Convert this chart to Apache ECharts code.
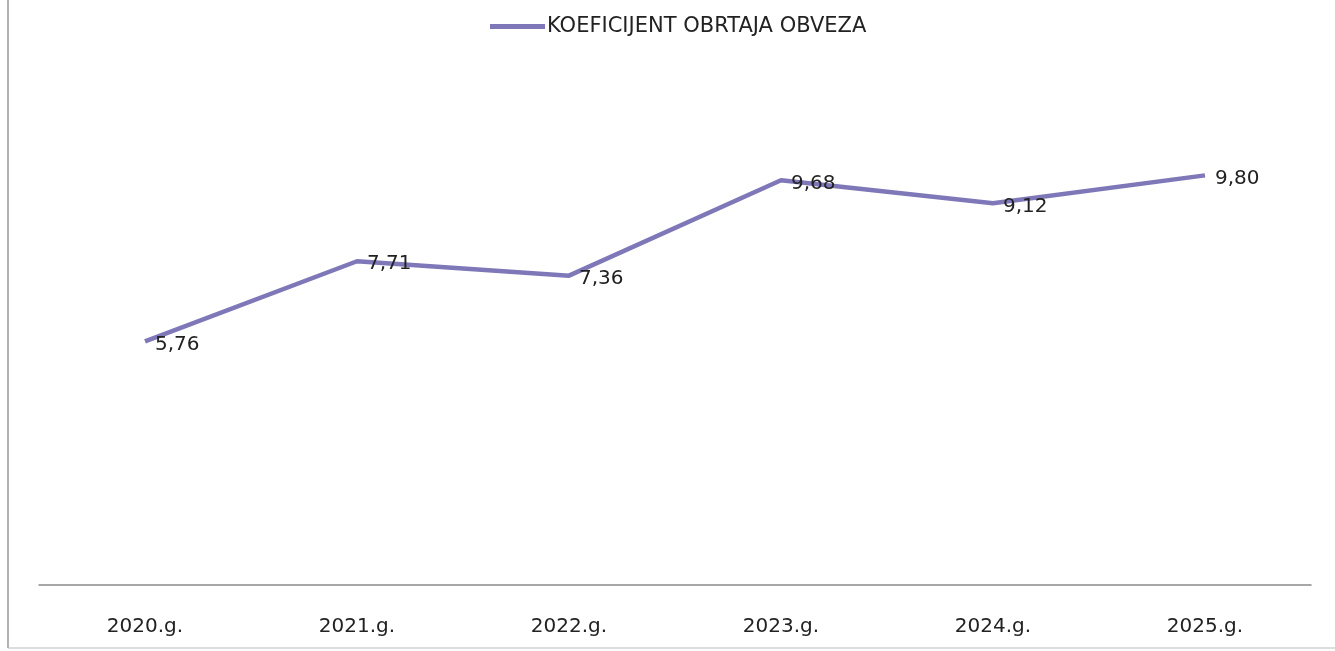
<!DOCTYPE html>
<html>
<head>
<meta charset="utf-8">
<script src="https://cdn.jsdelivr.net/npm/echarts@6/dist/echarts.min.js"></script>
<style>
  html, body { margin: 0; padding: 0; background: #fff; }
  #chart { width: 1335px; height: 651px; }
</style>
</head>
<body>
<div id="chart"></div>
<script>
  // data
  const years = ["2020.g.", "2021.g.", "2022.g.", "2023.g.", "2024.g.", "2025.g."];
  const koeficijent = [5.76, 7.71, 7.36, 9.68, 9.12, 9.80];
  const seriesName = "KOEFICIJENT OBRTAJA OBVEZA";

  const lineColor = "#7e77b8";
  const font = "'DejaVu Sans', sans-serif";

  const myChart = echarts.init(document.getElementById("chart"));

  const option = {
    backgroundColor: "#fff",
    animation: false,
    legend: {
      top: 11,
      left: 485,
      icon: "rect",
      itemWidth: 55,
      itemHeight: 5,
      itemGap: 0,
      textStyle: { fontFamily: font, fontSize: 21, color: "#222", padding: [0, 0, 0, -3] },
      data: [seriesName]
    },
    grid: {
      left: 39,
      right: 24,
      top: 85,
      bottom: 66
    },
    xAxis: {
      type: "category",
      data: years,
      axisLine: { onZero: false, lineStyle: { color: "#8a8a8a", width: 1.5 } },
      axisTick: { show: false },
      axisLabel: {
        margin: 32,
        fontFamily: font,
        fontSize: 20,
        color: "#222"
      }
    },
    yAxis: {
      type: "value",
      // slight negative min so the axis line sits a bit below zero, as in the original
      min: -0.17,
      max: 12,
      show: false,
      splitLine: { show: false }
    },
    series: [{
      name: seriesName,
      type: "line",
      data: koeficijent,
      symbol: "circle",
      symbolSize: 0,
      lineStyle: { color: lineColor, width: 4.5 },
      itemStyle: { color: lineColor },
      label: {
        show: true,
        position: "right",
        distance: 10,
        offset: [0, 3],
        fontFamily: font,
        fontSize: 20,
        color: "#222",
        formatter: p => p.value.toFixed(2).replace(".", ",")
      }
    }],
    graphic: [
      { type: "line", shape: { x1: 8, y1: 0, x2: 8, y2: 648 }, style: { stroke: "#999", lineWidth: 1.5 } },
      { type: "line", shape: { x1: 8, y1: 648, x2: 1335, y2: 648 }, style: { stroke: "#bbb", lineWidth: 1 } }
    ]
  };

  myChart.setOption(option);
</script>
</body>
</html>
